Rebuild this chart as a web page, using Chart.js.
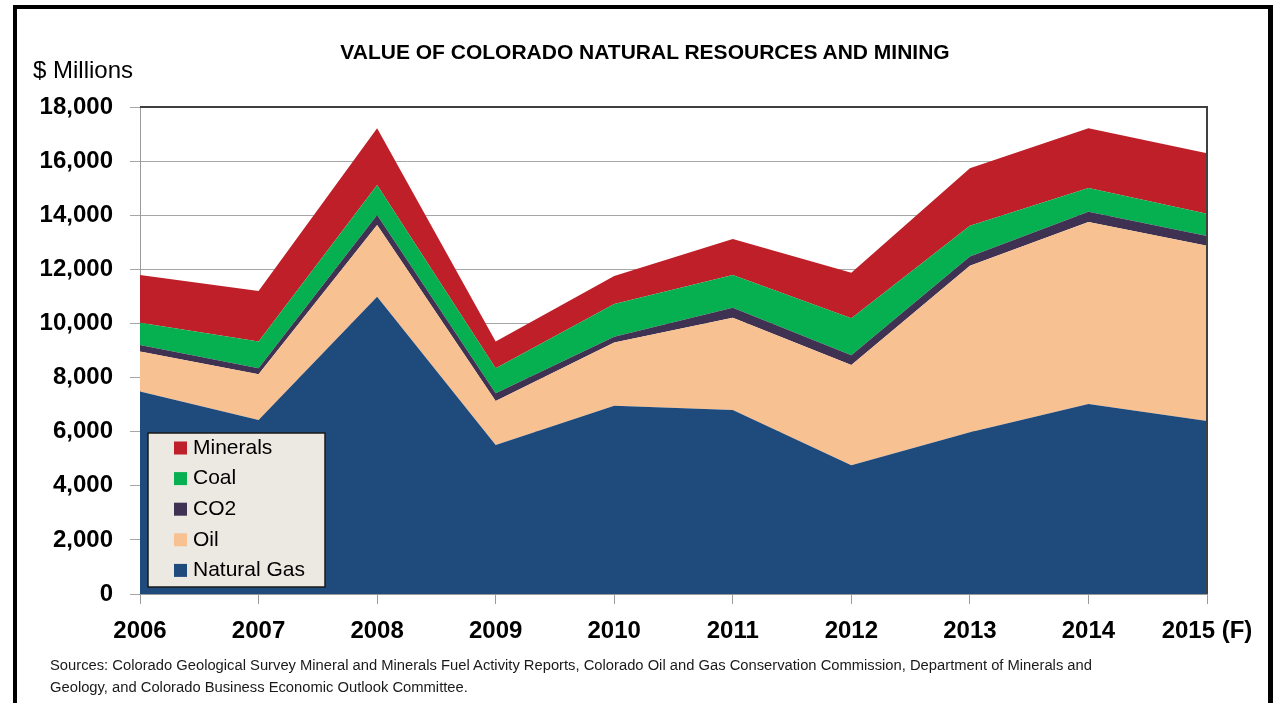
<!DOCTYPE html>
<html>
<head>
<meta charset="utf-8">
<script src="https://cdn.jsdelivr.net/npm/chart.js@4.4.1/dist/chart.umd.min.js"></script>
<style>
  html, body { margin: 0; padding: 0; background: #fff; overflow: hidden; }
  #wrap { position: relative; width: 1280px; height: 703px; }
  #frame { position: absolute; left: 13px; top: 5px; width: 1251px; height: 760px;
           border-left: 4px solid #000; border-top: 4px solid #000; border-right: 5px solid #000; }
  canvas { position: absolute; left: 0; top: 0; }
  .txt { position: absolute; white-space: nowrap; color: #000; }
  #title { left: 0; width: 1290px; text-align: center; top: 40px;
           font: bold 21px "Liberation Sans", Arial, sans-serif; }
  #unit { left: 33px; top: 56px; font: 24px "Liberation Sans", Arial, sans-serif; }
  #src { left: 50px; top: 654px; font: 14.75px/22px "Liberation Sans", Arial, sans-serif; color: #1a1a1a; }
</style>
</head>
<body>
<div id="wrap">
  <canvas id="c" width="1280" height="703"></canvas>
  <div id="frame"></div>
  <div class="txt" id="title">VALUE OF COLORADO NATURAL RESOURCES AND MINING</div>
  <div class="txt" id="unit">$ Millions</div>
  <div class="txt" id="src">Sources: Colorado Geological Survey Mineral and Minerals Fuel Activity Reports, Colorado Oil and Gas Conservation Commission, Department of Minerals and<br>Geology, and Colorado Business Economic Outlook Committee.</div>
</div>
<script>
const years = ['2006', '2007', '2008', '2009', '2010', '2011', '2012', '2013', '2014', '2015 (F)'];
const naturalGas = [7480, 6430, 10990, 5510, 6960, 6800, 4760, 5980, 7020, 6390];
const oil        = [1480, 1690, 2650, 1620, 2340, 3410, 3700, 6150, 6730, 6480];
const co2        = [240, 220, 370, 290, 210, 370, 360, 340, 380, 360];
const coal       = [830, 990, 1110, 920, 1210, 1210, 1370, 1140, 880, 820];
const minerals   = [1760, 1870, 2090, 990, 1030, 1330, 1680, 2130, 2200, 2240];
const yTicks = [0, 2000, 4000, 6000, 8000, 10000, 12000, 14000, 16000, 18000];

const FONT = "'Liberation Sans', Arial, sans-serif";

function ds(label, data, color, fill) {
  return { label, data, backgroundColor: color, borderColor: color, borderWidth: 0,
           pointRadius: 0, pointHoverRadius: 0, tension: 0, fill };
}

const frameBorder = {
  id: 'frameBorder',
  afterDatasetsDraw(chart) {
    const { ctx, chartArea: a } = chart;
    ctx.save();
    ctx.strokeStyle = '#404040';
    ctx.lineWidth = 2;
    ctx.beginPath();
    ctx.moveTo(a.left, a.top);
    ctx.lineTo(a.right, a.top);
    ctx.lineTo(a.right, a.bottom);
    ctx.stroke();
    ctx.restore();
  }
};

const boxLegend = {
  id: 'boxLegend',
  afterDraw(chart) {
    const ctx = chart.ctx;
    const x0 = 148, y0 = 433, w = 177, h = 154;
    ctx.save();
    ctx.fillStyle = '#ECE9E2';
    ctx.fillRect(x0, y0, w, h);
    ctx.strokeStyle = '#1a1a1a';
    ctx.lineWidth = 1.5;
    ctx.strokeRect(x0, y0, w, h);
    const items = chart.data.datasets.slice().reverse();
    ctx.font = '21px ' + FONT;
    ctx.textBaseline = 'middle';
    ctx.textAlign = 'left';
    items.forEach((d, i) => {
      const cy = 448 + i * 30.6;
      ctx.fillStyle = d.backgroundColor;
      ctx.fillRect(174, cy - 6.5, 13, 13);
      ctx.fillStyle = '#000';
      ctx.fillText(d.label, 193, cy);
    });
    ctx.restore();
  }
};

new Chart(document.getElementById('c'), {
  type: 'line',
  data: {
    labels: years,
    datasets: [
      ds('Natural Gas', naturalGas, '#1F4A7C', 'origin'),
      ds('Oil', oil, '#F8C191', '-1'),
      ds('CO2', co2, '#3F3151', '-1'),
      ds('Coal', coal, '#06B050', '-1'),
      ds('Minerals', minerals, '#BE1F28', '-1')
    ]
  },
  options: {
    responsive: false,
    animation: false,
    events: [],
    layout: { padding: { left: 0, top: 107, right: 73, bottom: 49 } },
    plugins: { legend: { display: false }, tooltip: { enabled: false }, title: { display: false } },
    scales: {
      x: {
        offset: false,
        afterFit(s) { s.height = 60; },
        grid: { drawOnChartArea: false, drawTicks: true, tickLength: 10, color: '#9a9a9a', tickColor: '#9a9a9a' },
        border: { display: true, color: '#9a9a9a', width: 1 },
        ticks: { color: '#000', padding: 13, maxRotation: 0, autoSkip: false,
                 font: { family: FONT, size: 24, weight: 'bold' } }
      },
      y: {
        stacked: true,
        min: 0, max: 18000,
        afterFit(s) { s.width = 140; },
        afterBuildTicks(s) { s.ticks = yTicks.map(v => ({ value: v })); },
        grid: { color: '#a6a6a6', tickColor: '#a6a6a6', tickLength: 10, lineWidth: 1 },
        border: { display: true, color: '#9a9a9a', width: 1 },
        ticks: { color: '#000', padding: 17,
                 callback: v => v.toLocaleString('en-US'),
                 font: { family: FONT, size: 24, weight: 'bold' } }
      }
    }
  },
  plugins: [frameBorder, boxLegend]
});
</script>
</body>
</html>
